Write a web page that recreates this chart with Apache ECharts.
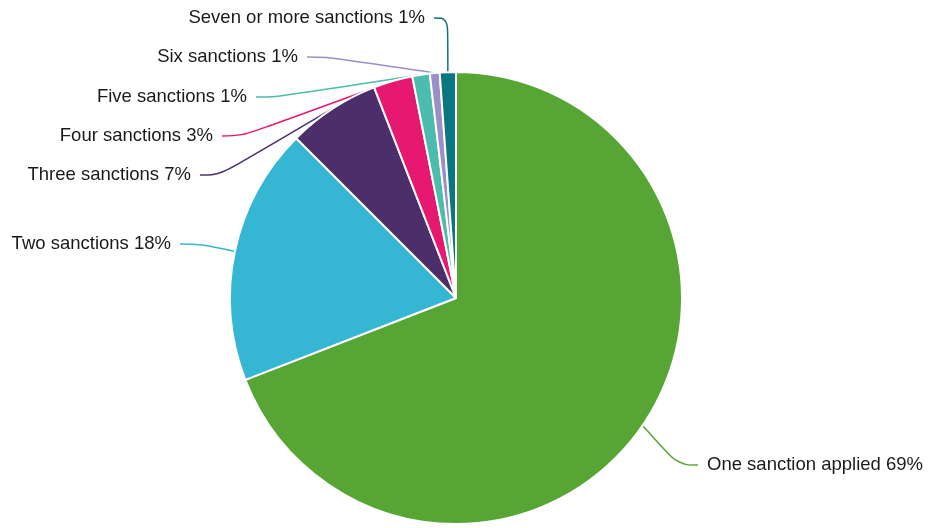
<!DOCTYPE html>
<html>
<head>
<meta charset="utf-8">
<script src="https://cdn.jsdelivr.net/npm/echarts@6/dist/echarts.min.js"></script>
<style>
html,body{margin:0;padding:0;background:#fff;}
#chart{width:931px;height:528px;}
</style>
</head>
<body>
<div id="chart"></div>
<script>
// Data
var categories = ['One sanction applied', 'Two sanctions', 'Three sanctions', 'Four sanctions', 'Five sanctions', 'Six sanctions', 'Seven or more sanctions'];
var values = [69.1, 18.4, 6.6, 2.8, 1.25, 0.7, 1.15];
var shownPercent = [69, 18, 7, 3, 1, 1, 1];

var colors = ['#57a635', '#35b6d3', '#4b2e6a', '#e6186f', '#4bbcad', '#9b8fc9', '#0a7680'];

// Label placement (layout only)
var labelSpots = [
  {x: 698, y: 465, align: 'left'},
  {x: 180, y: 244, align: 'right'},
  {x: 200, y: 175, align: 'right'},
  {x: 222, y: 136, align: 'right'},
  {x: 256, y: 97, align: 'right'},
  {x: 307, y: 57, align: 'right'},
  {x: 434, y: 18, align: 'right'}
];

var chart = echarts.init(document.getElementById('chart'), null, {renderer: 'canvas'});
var data = categories.map(function (c, i) {
  return {name: c, value: values[i], itemStyle: {color: colors[i]}, labelLine: {lineStyle: {color: colors[i]}}};
});

chart.setOption({
  animation: false,
  backgroundColor: '#fff',
  series: [{
    type: 'pie',
    center: [456, 298],
    radius: [0, 226],
    startAngle: 90,
    clockwise: true,
    avoidLabelOverlap: false,
    itemStyle: {borderColor: '#fff', borderWidth: 2},
    label: {
      show: true,
      position: 'outside',
      fontFamily: 'Liberation Sans, Arial, sans-serif',
      fontSize: 18.5,
      color: '#1a1a1a',
      padding: [0, 9],
      backgroundColor: 'rgba(255,255,255,0)',
      formatter: function (p) { return p.name + ' ' + shownPercent[p.dataIndex] + '%'; }
    },
    labelLine: {show: true, smooth: 0.4, length: 14, length2: 20, lineStyle: {width: 1.5}},
    labelLayout: function (params) {
      var s = labelSpots[params.dataIndex];
      return {x: s.x, y: s.y, align: s.align, verticalAlign: 'middle', moveOverlap: false};
    },
    data: data
  }]
});
</script>
</body>
</html>
